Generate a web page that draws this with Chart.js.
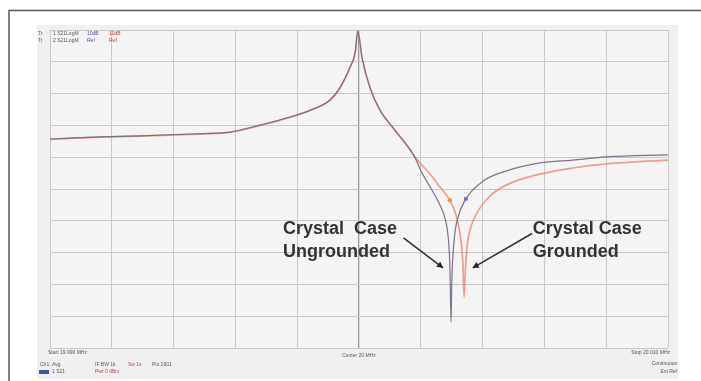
<!DOCTYPE html>
<html>
<head>
<meta charset="utf-8">
<script src="https://cdn.jsdelivr.net/npm/chart.js@4.4.1/dist/chart.umd.min.js"></script>
<style>
html,body{margin:0;padding:0;background:#fff;}
#wrap{width:701px;height:381px;position:relative;}
</style>
</head>
<body>
<div id="wrap"><canvas id="c" width="701" height="381"></canvas></div>
<script>
// x: horizontal divisions (0..10), y: vertical divisions (0..10)
const ungroundedX = [0,0.32,0.81,1.46,2.27,2.91,3.40,3.88,4.21,4.53,4.69,4.85,4.94,4.98,5.05,5.18,5.34,5.58,5.83,5.91,6.02,6.18,6.31,6.39,6.44,6.47,6.49,6.50,6.54,6.60,6.73,7.01,7.39,7.93,8.46,9.01,10];
const ungroundedY = [6.57,6.60,6.64,6.67,6.73,6.79,7.01,7.26,7.48,7.80,8.18,8.81,9.31,9.97,9.12,8.18,7.48,6.86,6.23,5.97,5.50,4.97,4.50,4.09,3.55,2.61,0.82,1.98,3.40,4.09,4.69,5.25,5.57,5.82,5.91,6.01,6.07];
const groundedX = [0,0.32,0.81,1.46,2.27,2.91,3.40,3.88,4.21,4.53,4.69,4.85,4.94,4.98,5.05,5.18,5.34,5.58,5.83,5.95,6.15,6.31,6.47,6.57,6.63,6.68,6.70,6.72,6.75,6.80,6.91,7.12,7.39,7.93,8.46,9.01,10];
const groundedY = [6.56,6.59,6.63,6.66,6.72,6.78,7.00,7.25,7.47,7.79,8.17,8.80,9.30,9.96,9.11,8.17,7.47,6.85,6.22,5.90,5.47,5.06,4.65,4.18,3.65,2.70,1.60,2.39,3.21,3.74,4.25,4.78,5.13,5.47,5.66,5.79,5.91];
const ungroundedMarkerIndex = 30;
const groundedMarkerIndex = 22;
const labelUngrounded = ["Crystal  Case", "Ungrounded"];
const labelGrounded = ["Crystal Case", "Grounded"];

const pts = (xs, ys) => xs.map((x, i) => ({x: x, y: ys[i]}));
const radii = (n, idx) => Array.from({length: n}, (_, i) => i === idx ? 2.2 : 0);

const framePlugin = {
  id: 'frame',
  beforeDraw(chart) {
    const ctx = chart.ctx;
    ctx.save();
    ctx.fillStyle = '#ffffff';
    ctx.fillRect(0, 0, 701, 381);
    ctx.strokeStyle = '#5a5a5a';
    ctx.lineWidth = 1.5;
    ctx.beginPath();
    ctx.moveTo(9, 381); ctx.lineTo(9, 10.5); ctx.lineTo(701, 10.5);
    ctx.stroke();
    ctx.fillStyle = '#f0f0f0';
    ctx.fillRect(37, 25, 641, 354);
    const a = chart.chartArea;
    ctx.fillStyle = '#f4f4f4';
    ctx.fillRect(a.left, a.top, a.right - a.left, a.bottom - a.top);
    ctx.restore();
  },
  afterDatasetsDraw(chart) {
    const ctx = chart.ctx;
    const xs = chart.scales.x, ys = chart.scales.y;
    const a = chart.chartArea;
    ctx.save();
    // tiny header / footer texts
    ctx.font = '5px "Liberation Sans", Arial, sans-serif';
    ctx.textBaseline = 'middle';
    ctx.fillStyle = '#555';
    ctx.fillText('Tr', 38, 34);
    ctx.fillStyle = '#c03030';
    ctx.fillText('Tr', 38, 41);
    ctx.fillStyle = '#555';
    ctx.fillText('1 S21LogM', 53, 34);
    ctx.fillText('2 S21LogM', 53, 41);
    ctx.fillStyle = '#4a4a9a';
    ctx.fillText('10dB', 87, 34);
    ctx.fillText('Ref', 87, 41);
    ctx.fillStyle = '#c04040';
    ctx.fillText('10dB', 109, 34);
    ctx.fillText('Ref', 109, 41);
    ctx.fillStyle = '#555';
    ctx.fillText('Start 19.990 MHz', a.left - 2, 353);
    ctx.textAlign = 'center';
    ctx.fillText('Center 20 MHz', xs.getPixelForValue(5), 356);
    ctx.textAlign = 'right';
    ctx.fillText('Stop 20.010 MHz', a.right + 2, 353);
    ctx.textAlign = 'left';
    ctx.fillText('Ch1: Avg', 40, 365);
    ctx.fillText('IF BW 1k', 95, 365);
    ctx.fillStyle = '#c04040';
    ctx.fillText('Pwr 0 dBm', 95, 372);
    ctx.fillText('Sw 1s', 128, 365);
    ctx.fillStyle = '#555';
    ctx.fillText('Pts 1601', 152, 365);
    ctx.fillStyle = '#3a5aa0';
    ctx.fillRect(39, 370, 10, 4);
    ctx.fillStyle = '#555';
    ctx.fillText('1 S21', 52, 372);
    ctx.textAlign = 'right';
    ctx.fillText('Continuous', 677, 364);
    ctx.fillText('Ext Ref', 677, 372);

    // annotations
    ctx.fillStyle = '#333333';
    ctx.textAlign = 'left';
    ctx.textBaseline = 'alphabetic';
    ctx.font = 'bold 18px "Liberation Sans", Arial, sans-serif';
    const lx = xs.getPixelForValue(3.77), rx = xs.getPixelForValue(7.81);
    const y1 = ys.getPixelForValue(3.57), y2 = ys.getPixelForValue(2.87);
    ctx.fillText(labelUngrounded[0], lx, y1);
    ctx.fillText(labelUngrounded[1], lx, y2);
    ctx.fillText(labelGrounded[0], rx, y1);
    ctx.fillText(labelGrounded[1], rx, y2);

    function arrow(x0, y0, x1, y1) {
      const p0 = [xs.getPixelForValue(x0), ys.getPixelForValue(y0)];
      const p1 = [xs.getPixelForValue(x1), ys.getPixelForValue(y1)];
      ctx.strokeStyle = '#333';
      ctx.lineWidth = 1.6;
      ctx.beginPath();
      ctx.moveTo(p0[0], p0[1]);
      ctx.lineTo(p1[0], p1[1]);
      ctx.stroke();
      const ang = Math.atan2(p1[1] - p0[1], p1[0] - p0[0]);
      const L = 6, W = 3.2;
      ctx.beginPath();
      ctx.moveTo(p1[0], p1[1]);
      ctx.lineTo(p1[0] - L * Math.cos(ang) + W * Math.sin(ang), p1[1] - L * Math.sin(ang) - W * Math.cos(ang));
      ctx.lineTo(p1[0] - L * Math.cos(ang) - W * Math.sin(ang), p1[1] - L * Math.sin(ang) + W * Math.cos(ang));
      ctx.closePath();
      ctx.fillStyle = '#222';
      ctx.fill();
    }
    arrow(5.72, 3.46, 6.36, 2.52);
    arrow(7.80, 3.60, 6.84, 2.52);
    ctx.restore();
  }
};

new Chart(document.getElementById('c'), {
  type: 'line',
  data: {
    datasets: [
      {
        label: 'Crystal Case Grounded',
        order: 1,
        data: pts(groundedX, groundedY),
        borderColor: 'rgba(232,130,110,0.75)',
        backgroundColor: '#e89a40',
        borderWidth: 1.7,
        pointRadius: radii(groundedX.length, groundedMarkerIndex),
        pointBorderWidth: 0,
        cubicInterpolationMode: 'monotone',
        fill: false
      },
      {
        label: 'Crystal Case Ungrounded',
        order: 0,
        data: pts(ungroundedX, ungroundedY),
        borderColor: 'rgba(118,108,132,0.95)',
        backgroundColor: '#6a7ad0',
        borderWidth: 1.2,
        pointRadius: radii(ungroundedX.length, ungroundedMarkerIndex),
        pointBorderWidth: 0,
        cubicInterpolationMode: 'monotone',
        fill: false
      }
    ]
  },
  options: {
    responsive: false,
    animation: false,
    events: [],
    layout: {padding: {left: 50, top: 30, right: 33, bottom: 33}},
    plugins: {legend: {display: false}, tooltip: {enabled: false}},
    scales: {
      x: {
        type: 'linear', min: 0, max: 10,
        ticks: {display: false, stepSize: 1},
        grid: {
          drawTicks: false,
          color: (c) => c.tick && c.tick.value === 5 ? '#9a9a9a' : '#c8c8c8',
          lineWidth: (c) => c.tick && c.tick.value === 5 ? 1.3 : 1
        },
        border: {display: false}
      },
      y: {
        type: 'linear', min: 0, max: 10,
        ticks: {display: false, stepSize: 1},
        grid: {drawTicks: false, color: '#c8c8c8'},
        border: {display: false}
      }
    }
  },
  plugins: [framePlugin]
});
</script>
</body>
</html>
